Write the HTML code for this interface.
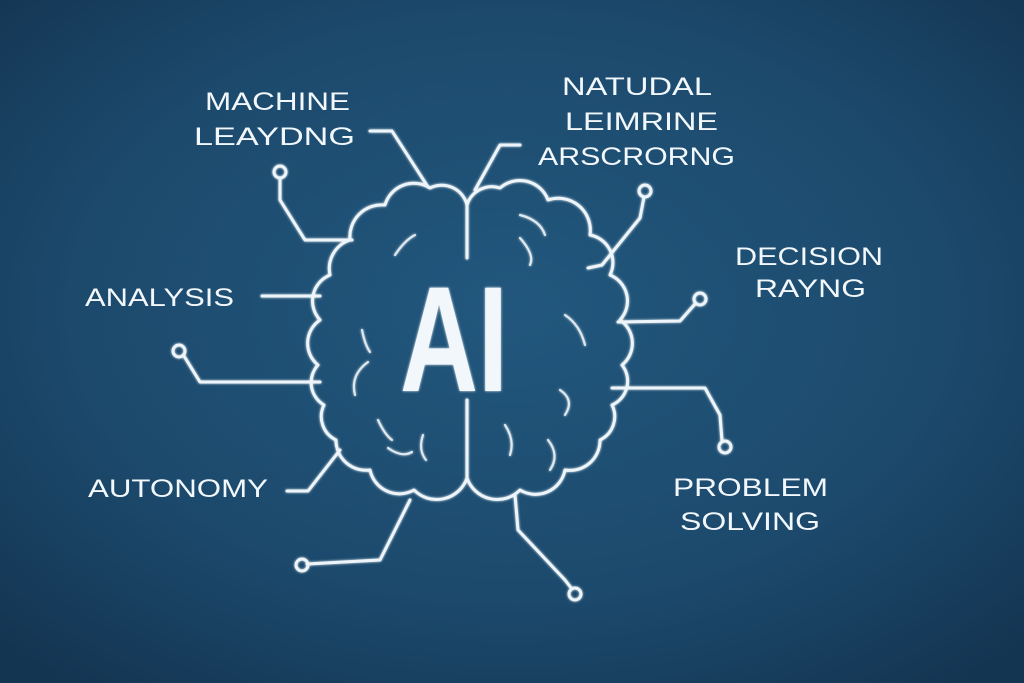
<!DOCTYPE html>
<html><head><meta charset="utf-8"><style>
html,body{margin:0;padding:0;width:1024px;height:683px;overflow:hidden;background:#1d4a6c}
svg{display:block}
text{font-family:"Liberation Sans","DejaVu Sans",sans-serif;fill:#f2f7fb}
</style></head><body>
<svg width="1024" height="683" viewBox="0 0 1024 683" xmlns="http://www.w3.org/2000/svg">
<defs>
<radialGradient id="bg" cx="50%" cy="45%" r="70%">
<stop offset="0" stop-color="#22577d"/><stop offset="0.6" stop-color="#1c4a6d"/><stop offset="1" stop-color="#143552"/>
</radialGradient>
<filter id="glow"><feGaussianBlur stdDeviation="1.2" result="b"/><feMerge><feMergeNode in="b"/><feMergeNode in="SourceGraphic"/></feMerge></filter>
</defs>
<rect width="1024" height="683" fill="url(#bg)"/>
<g fill="none" stroke="#eef5fa" stroke-width="3" stroke-linejoin="round" stroke-linecap="round" filter="url(#glow)">
<!-- brain outline -->
<path d="M467 205 A26 26 0 0 1 500 188 A30 30 0 0 1 548 200 A32 32 0 0 1 590 235 A28 28 0 0 1 610 275 A28 28 0 0 1 620 320 A28 28 0 0 1 622 365 A26 26 0 0 1 612 405 A26 26 0 0 1 600 440 A30 30 0 0 1 565 470 A30 30 0 0 1 520 490 A32 32 0 0 1 467 478 A32 32 0 0 1 414 490 A30 30 0 0 1 370 470 A30 30 0 0 1 336 440 A26 26 0 0 1 324 405 A26 26 0 0 1 318 365 A28 28 0 0 1 320 320 A28 28 0 0 1 330 275 A30 30 0 0 1 350 240 A32 32 0 0 1 385 205 A30 30 0 0 1 430 188 A26 26 0 0 1 467 205 Z"/>
<path d="M467 205 L467 258 M467 400 L467 478"/>
<!-- inner folds -->
<g stroke-width="2.2" opacity="0.85">
<path d="M395 255 Q405 240 415 235"/><path d="M362 330 Q365 345 370 352"/><path d="M355 395 Q350 375 368 362"/>
<path d="M378 420 Q385 435 392 440"/><path d="M388 448 Q402 458 412 452"/><path d="M423 435 Q418 450 426 460"/>
<path d="M520 215 Q540 220 545 235"/><path d="M565 315 Q580 325 585 345"/><path d="M560 390 Q575 400 565 415"/>
<path d="M505 425 Q515 440 510 455"/><path d="M548 440 Q560 455 550 470"/><path d="M520 238 Q535 255 530 265"/>
</g>
<!-- connectors -->
<path d="M370 131 L392 131 L428 187"/>
<path d="M280 178 L280 200 L305 240 L352 240"/>
<path d="M520 145 L500 145 L475 190"/>
<path d="M644 197 L640 218 L602 265 L588 268"/>
<path d="M262 296 L320 296"/>
<path d="M184 356 L200 382 L320 382"/>
<path d="M695 304 L680 321 L618 322"/>
<path d="M612 388 L705 388 L720 415 L722 441"/>
<path d="M287 491 L308 491 L340 450"/>
<path d="M307 564 L380 560 L410 500"/>
<path d="M515 495 L518 530 L565 580 L572 589"/>
<circle cx="280" cy="172" r="6"/>
<circle cx="645" cy="191" r="6"/>
<circle cx="179" cy="351" r="6"/>
<circle cx="700" cy="299" r="6"/>
<circle cx="725" cy="447" r="6"/>
<circle cx="302" cy="565" r="6"/>
<circle cx="575" cy="594" r="6"/>
</g>
<text x="400" y="391" font-size="150" font-weight="bold" textLength="108" lengthAdjust="spacingAndGlyphs" fill="#f4f9fc" filter="url(#glow)">AI</text>
<g font-size="25">
<text x="205" y="110" textLength="145" lengthAdjust="spacingAndGlyphs">MACHINE</text>
<text x="194" y="145" textLength="161" lengthAdjust="spacingAndGlyphs">LEAYDNG</text>
<text x="562" y="95" textLength="150" lengthAdjust="spacingAndGlyphs">NATUDAL</text>
<text x="565" y="130" textLength="153" lengthAdjust="spacingAndGlyphs">LEIMRINE</text>
<text x="538" y="165" textLength="197" lengthAdjust="spacingAndGlyphs">ARSCRORNG</text>
<text x="735" y="265" textLength="148" lengthAdjust="spacingAndGlyphs">DECISION</text>
<text x="755" y="297" textLength="111" lengthAdjust="spacingAndGlyphs">RAYNG</text>
<text x="85" y="306" textLength="149" lengthAdjust="spacingAndGlyphs">ANALYSIS</text>
<text x="88" y="497" textLength="180" lengthAdjust="spacingAndGlyphs">AUTONOMY</text>
<text x="673" y="496" textLength="155" lengthAdjust="spacingAndGlyphs">PROBLEM</text>
<text x="680" y="530" textLength="140" lengthAdjust="spacingAndGlyphs">SOLVING</text>
</g>
</svg>
</body></html>
